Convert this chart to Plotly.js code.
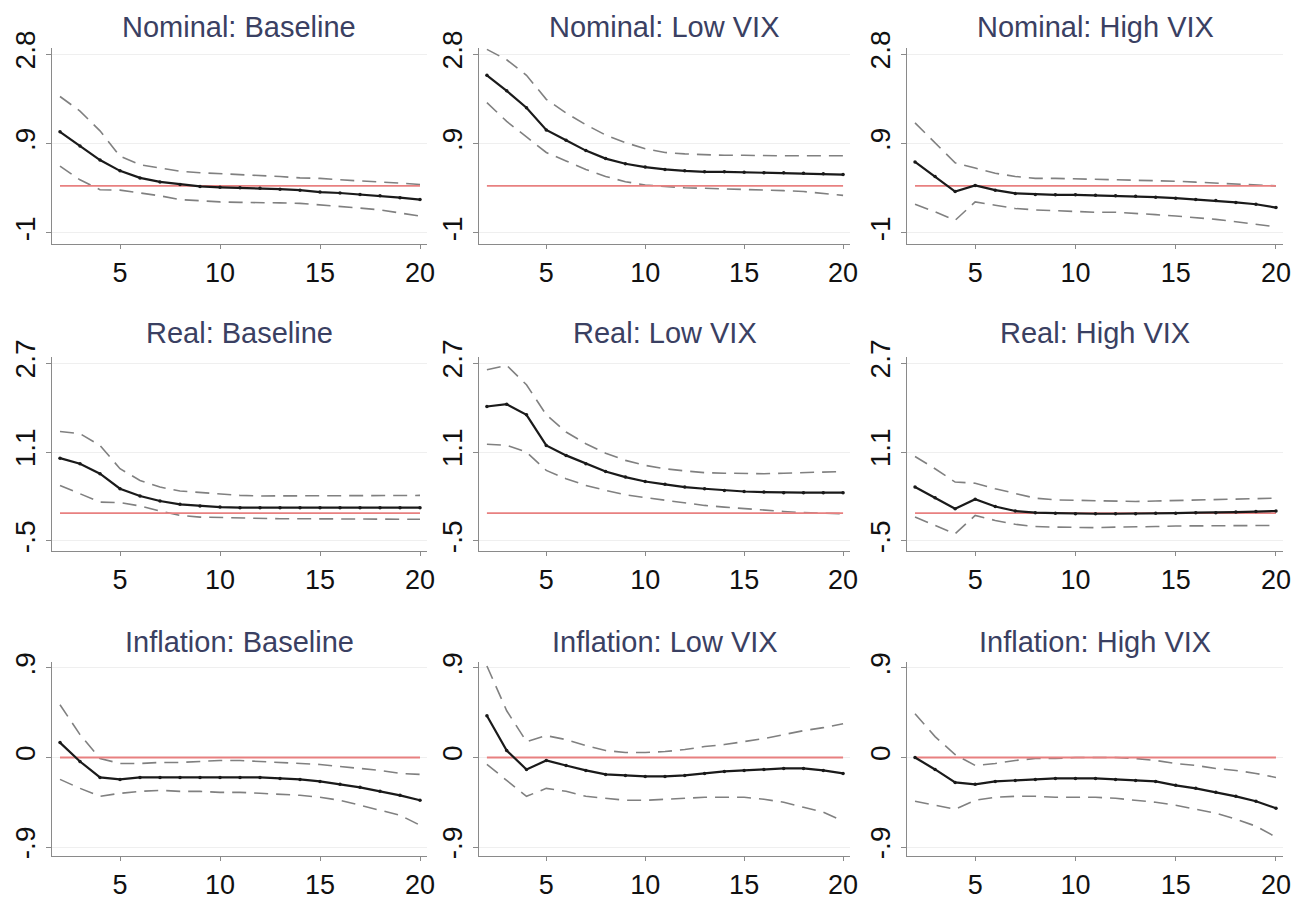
<!DOCTYPE html>
<html>
<head>
<meta charset="utf-8">
<script src="https://cdn.plot.ly/plotly-3.0.1.min.js"></script>
<style>
  html, body { margin: 0; padding: 0; background: #ffffff; }
  #chart { width: 1294px; height: 899px; }
</style>
</head>
<body>
<div id="chart"></div>
<script>
// ---------------- DATA ----------------
const horizons = [2, 3, 4, 5, 6, 7, 8, 9, 10, 11, 12, 13, 14, 15, 16, 17, 18, 19, 20];
const referenceLevel = 0;

const panelTitles = [
  "Nominal: Baseline", "Nominal: Low VIX", "Nominal: High VIX",
  "Real: Baseline", "Real: Low VIX", "Real: High VIX",
  "Inflation: Baseline", "Inflation: Low VIX", "Inflation: High VIX"
];

// Nominal
const nomBaseIrf = [1.15, 0.85, 0.55, 0.32, 0.17, 0.085, 0.03, -0.01, -0.03, -0.04, -0.05, -0.07, -0.09, -0.13, -0.15, -0.18, -0.21, -0.25, -0.29];
const nomBaseUp  = [1.90, 1.59, 1.17, 0.63, 0.45, 0.38, 0.31, 0.28, 0.26, 0.25, 0.23, 0.20, 0.17, 0.16, 0.13, 0.11, 0.09, 0.06, 0.03];
const nomBaseLo  = [0.42, 0.13, -0.08, -0.09, -0.15, -0.21, -0.29, -0.32, -0.34, -0.35, -0.35, -0.36, -0.37, -0.40, -0.43, -0.47, -0.51, -0.57, -0.64];

const nomLowIrf = [2.35, 2.02, 1.66, 1.19, 0.97, 0.75, 0.58, 0.47, 0.40, 0.35, 0.32, 0.30, 0.30, 0.29, 0.28, 0.28, 0.27, 0.26, 0.24];
const nomLowUp  = [2.90, 2.68, 2.35, 1.84, 1.55, 1.30, 1.08, 0.92, 0.79, 0.71, 0.68, 0.66, 0.65, 0.65, 0.64, 0.64, 0.64, 0.64, 0.64];
const nomLowLo  = [1.77, 1.37, 1.04, 0.71, 0.53, 0.35, 0.20, 0.09, 0.02, -0.01, -0.04, -0.05, -0.06, -0.07, -0.09, -0.10, -0.12, -0.16, -0.20];

const nomHighIrf = [0.51, 0.20, -0.12, 0.01, -0.09, -0.16, -0.18, -0.19, -0.19, -0.20, -0.21, -0.22, -0.24, -0.26, -0.29, -0.31, -0.35, -0.39, -0.46];
const nomHighUp  = [1.34, 0.91, 0.49, 0.38, 0.27, 0.20, 0.16, 0.16, 0.15, 0.14, 0.14, 0.13, 0.11, 0.10, 0.08, 0.06, 0.04, 0.01, 0.00];
const nomHighLo  = [-0.39, -0.55, -0.73, -0.34, -0.41, -0.48, -0.51, -0.53, -0.55, -0.56, -0.56, -0.58, -0.61, -0.64, -0.67, -0.71, -0.76, -0.81, -0.87];

// Real
const realBaseIrf = [0.99, 0.89, 0.71, 0.44, 0.31, 0.22, 0.16, 0.13, 0.11, 0.10, 0.10, 0.10, 0.10, 0.10, 0.10, 0.10, 0.10, 0.10, 0.10];
const realBaseUp  = [1.47, 1.43, 1.22, 0.80, 0.59, 0.47, 0.40, 0.37, 0.34, 0.32, 0.31, 0.31, 0.31, 0.31, 0.31, 0.31, 0.31, 0.32, 0.32];
const realBaseLo  = [0.50, 0.35, 0.20, 0.19, 0.13, 0.04, -0.04, -0.07, -0.08, -0.09, -0.10, -0.10, -0.10, -0.10, -0.10, -0.10, -0.10, -0.10, -0.11];

const realLowIrf = [1.92, 1.96, 1.77, 1.22, 1.04, 0.89, 0.75, 0.65, 0.57, 0.52, 0.47, 0.44, 0.41, 0.39, 0.38, 0.37, 0.37, 0.37, 0.37];
const realLowUp  = [2.58, 2.66, 2.31, 1.77, 1.46, 1.25, 1.08, 0.95, 0.86, 0.80, 0.76, 0.73, 0.72, 0.71, 0.71, 0.72, 0.73, 0.74, 0.75];
const realLowLo  = [1.24, 1.22, 1.10, 0.77, 0.62, 0.50, 0.41, 0.33, 0.28, 0.23, 0.18, 0.14, 0.11, 0.08, 0.05, 0.03, 0.01, 0.00, -0.01];

const realHighIrf = [0.47, 0.28, 0.08, 0.25, 0.12, 0.04, 0.01, 0.00, -0.01, -0.01, -0.01, -0.01, 0.00, 0.00, 0.01, 0.01, 0.02, 0.03, 0.04];
const realHighUp  = [1.02, 0.80, 0.56, 0.54, 0.44, 0.35, 0.27, 0.24, 0.23, 0.22, 0.21, 0.21, 0.22, 0.23, 0.24, 0.25, 0.25, 0.26, 0.27];
const realHighLo  = [-0.07, -0.22, -0.37, -0.04, -0.13, -0.20, -0.24, -0.25, -0.26, -0.26, -0.25, -0.25, -0.24, -0.23, -0.23, -0.23, -0.22, -0.22, -0.22];

// Inflation
const inflBaseIrf = [0.15, -0.04, -0.20, -0.22, -0.20, -0.20, -0.20, -0.20, -0.20, -0.20, -0.20, -0.21, -0.22, -0.24, -0.27, -0.30, -0.34, -0.38, -0.43];
const inflBaseUp  = [0.53, 0.23, -0.01, -0.06, -0.06, -0.05, -0.05, -0.04, -0.03, -0.03, -0.04, -0.05, -0.06, -0.07, -0.09, -0.11, -0.13, -0.16, -0.17];
const inflBaseLo  = [-0.22, -0.31, -0.39, -0.36, -0.34, -0.33, -0.34, -0.34, -0.35, -0.35, -0.36, -0.37, -0.38, -0.40, -0.43, -0.48, -0.53, -0.58, -0.68];

const inflLowIrf = [0.42, 0.07, -0.12, -0.03, -0.08, -0.13, -0.17, -0.18, -0.19, -0.19, -0.18, -0.16, -0.14, -0.13, -0.12, -0.11, -0.11, -0.13, -0.16];
const inflLowUp  = [0.92, 0.47, 0.16, 0.22, 0.18, 0.12, 0.07, 0.05, 0.05, 0.06, 0.08, 0.11, 0.13, 0.16, 0.19, 0.23, 0.27, 0.30, 0.34];
const inflLowLo  = [-0.07, -0.23, -0.39, -0.31, -0.34, -0.39, -0.41, -0.43, -0.43, -0.42, -0.41, -0.40, -0.40, -0.40, -0.42, -0.45, -0.50, -0.55, -0.64];

const inflHighIrf = [0.00, -0.12, -0.25, -0.27, -0.24, -0.23, -0.22, -0.21, -0.21, -0.21, -0.22, -0.23, -0.24, -0.28, -0.31, -0.35, -0.39, -0.44, -0.51];
const inflHighUp  = [0.44, 0.21, 0.03, -0.08, -0.06, -0.03, -0.01, -0.01, 0.00, 0.00, 0.00, -0.01, -0.03, -0.06, -0.08, -0.11, -0.13, -0.16, -0.20];
const inflHighLo  = [-0.44, -0.48, -0.52, -0.43, -0.40, -0.39, -0.39, -0.40, -0.40, -0.40, -0.41, -0.43, -0.45, -0.48, -0.52, -0.56, -0.62, -0.69, -0.80];

// Tick labels per row
const xTickVals = [5, 10, 15, 20];
const xTickText = ["5", "10", "15", "20"];
const nominalTickVals = [-1, 0.9, 2.8];
const nominalTickText = ["-1", ".9", "2.8"];
const realTickVals = [-0.5, 1.1, 2.7];
const realTickText = ["-.5", "1.1", "2.7"];
const inflationTickVals = [-0.9, 0, 0.9];
const inflationTickText = ["-.9", "0", ".9"];

// ---------------- BUILD ----------------
const seriesSets = [
  [nomBaseIrf, nomBaseUp, nomBaseLo], [nomLowIrf, nomLowUp, nomLowLo], [nomHighIrf, nomHighUp, nomHighLo],
  [realBaseIrf, realBaseUp, realBaseLo], [realLowIrf, realLowUp, realLowLo], [realHighIrf, realHighUp, realHighLo],
  [inflBaseIrf, inflBaseUp, inflBaseLo], [inflLowIrf, inflLowUp, inflLowLo], [inflHighIrf, inflHighUp, inflHighLo]
];
const rowTicks = [
  [nominalTickVals, nominalTickText],
  [realTickVals, realTickText],
  [inflationTickVals, inflationTickText]
];

const W = 1294, H = 899;
// pixel geometry of plot regions
const colPx = [[52, 427], [479, 850], [907, 1283]];
const rowPx = [[48, 244], [357, 551], [662, 856]];           // top, bottom
const rowRanges = [[-1.234, 2.93], [-0.68, 2.81], [-0.99, 0.96]];
const titleY = [27, 333, 642];
const xRange = [1.6, 20.35];

const fontFam = "Liberation Sans, Arial, Helvetica, sans-serif";
const traces = [];
const layout = {
  width: W, height: H,
  margin: {l: 0, r: 0, t: 0, b: 0},
  paper_bgcolor: "#ffffff",
  plot_bgcolor: "#ffffff",
  showlegend: false,
  font: {family: fontFam, color: "#000000"},
  annotations: []
};

for (let i = 0; i < 9; i++) {
  const r = Math.floor(i / 3), c = i % 3;
  const sfx = i === 0 ? "" : String(i + 1);
  const xa = "x" + sfx, ya = "y" + sfx;
  const [irf, up, lo] = seriesSets[i];
  const zeroLine = horizons.map(() => referenceLevel);

  traces.push({x: horizons, y: up, xaxis: xa, yaxis: ya, mode: "lines",
    line: {color: "#808080", width: 1.6, dash: "14px,8px"}, hoverinfo: "skip"});
  traces.push({x: horizons, y: lo, xaxis: xa, yaxis: ya, mode: "lines",
    line: {color: "#808080", width: 1.6, dash: "14px,8px"}, hoverinfo: "skip"});
  traces.push({x: horizons, y: zeroLine, xaxis: xa, yaxis: ya, mode: "lines",
    line: {color: "#e88080", width: 1.8}, hoverinfo: "skip"});
  traces.push({x: horizons, y: irf, xaxis: xa, yaxis: ya, mode: "lines+markers",
    line: {color: "#1a1a1a", width: 2.2}, marker: {color: "#1a1a1a", size: 3.5}, hoverinfo: "skip"});

  layout["xaxis" + sfx] = {
    domain: [colPx[c][0] / W, colPx[c][1] / W],
    anchor: ya, range: xRange,
    tickmode: "array", tickvals: xTickVals, ticktext: xTickText,
    ticks: "outside", ticklen: 4, tickcolor: "#8a8a8a", tickwidth: 1,
    showline: true, linecolor: "#8a8a8a", linewidth: 1.2,
    showgrid: false, zeroline: false,
    tickfont: {family: fontFam, size: 27, color: "#111111"}
  };
  layout["yaxis" + sfx] = {
    domain: [1 - rowPx[r][1] / H, 1 - rowPx[r][0] / H],
    anchor: xa, range: rowRanges[r],
    tickmode: "array", tickvals: rowTicks[r][0], ticktext: rowTicks[r][1],
    tickangle: -90,
    ticks: "outside", ticklen: 5, tickcolor: "#8a8a8a", tickwidth: 1,
    showline: true, linecolor: "#8a8a8a", linewidth: 1.2,
    showgrid: true, gridcolor: "#efefef", gridwidth: 1,
    zeroline: false,
    tickfont: {family: fontFam, size: 28, color: "#111111"}
  };
  layout.annotations.push({
    text: panelTitles[i],
    xref: "paper", yref: "paper",
    x: (colPx[c][0] + colPx[c][1]) / 2 / W,
    y: 1 - titleY[r] / H,
    xanchor: "center", yanchor: "middle", showarrow: false,
    font: {family: fontFam, size: 29, color: "#3a4062"}
  });
}

Plotly.newPlot("chart", traces, layout, {displayModeBar: false, staticPlot: true});
</script>
</body>
</html>
